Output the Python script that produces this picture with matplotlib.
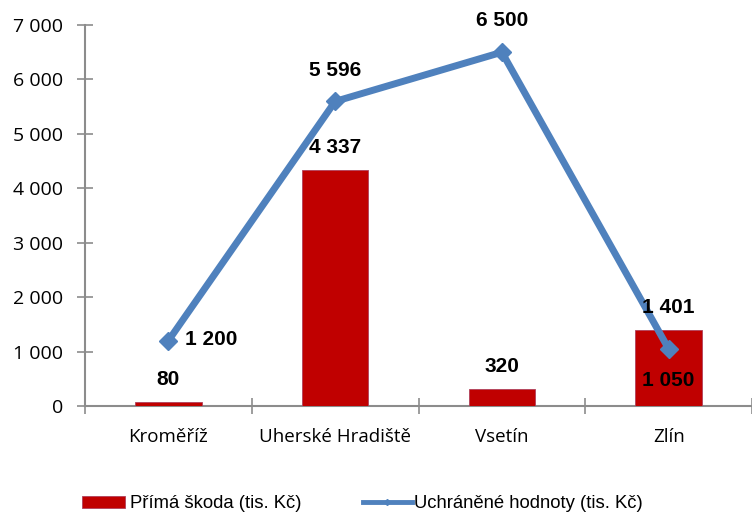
import matplotlib
matplotlib.use("Agg")
import matplotlib.pyplot as plt
from matplotlib.lines import Line2D
from matplotlib.patches import Patch

categories = ["Kroměříž", "Uherské Hradiště", "Vsetín", "Zlín"]
prima_skoda = [80, 4337, 320, 1401]
uchranene = [1200, 5596, 6500, 1050]
yticks = [0, 1000, 2000, 3000, 4000, 5000, 6000, 7000]

def fmt(v):
    return f"{v:,}".replace(",", " ")

bar_color = "#C00000"
line_color = "#4F81BD"

fig = plt.figure(figsize=(7.52, 5.16), dpi=100)
ax = fig.add_axes([85/752, 1-406/516, 1-85/752, (406-25)/516])

x = list(range(len(categories)))
ax.bar(x, prima_skoda, width=0.4, color=bar_color, edgecolor="#B0405A", linewidth=0.6, zorder=2)
ax.plot(x, uchranene, color=line_color, linewidth=5, marker="D", markersize=9,
        zorder=3, solid_capstyle="butt")

ax.set_xlim(-0.5, 3.5)
ax.set_ylim(0, 7000)
ax.set_yticks(yticks)
ax.set_yticklabels([fmt(v) for v in yticks], fontfamily="Open Sans", fontsize=14)
ax.set_xticks([-0.5, 0.5, 1.5, 2.5, 3.5])
ax.set_xticklabels([])
ax.set_xticks(x, minor=True)
ax.set_xticklabels(categories, minor=True, fontfamily="Open Sans", fontsize=13.5)
ax.tick_params(axis="x", which="minor", length=0, pad=16)
ax.tick_params(axis="both", which="major", direction="inout", length=12, width=1.2, color="#8C8C8C")
ax.tick_params(axis="y", pad=9.5)
for s in ["top", "right"]:
    ax.spines[s].set_visible(False)
for s in ["left", "bottom"]:
    ax.spines[s].set_color("#8C8C8C")
    ax.spines[s].set_linewidth(1.5)
ax.spines["bottom"].set_zorder(1)

lab = dict(fontfamily="Liberation Sans", fontweight="bold", fontsize=15, color="black", zorder=5)
# bar labels
for xi, v in zip(x, prima_skoda):
    ax.annotate(fmt(v), (xi, v), xytext=(0, 16), textcoords="offset points", ha="center", va="center", **lab)
# line labels
offs = [((12, 1), "left"), ((0, 22), "center"), ((0, 23), "center"), ((0, -23), "center")]
for xi, v, (o, ha) in zip(x, uchranene, offs):
    ax.annotate(fmt(v), (xi, v), xytext=o, textcoords="offset points", ha=ha, va="center", **lab)

leg_prop = {"family": "Liberation Sans", "size": 13.3}
leg1 = fig.legend([Patch(facecolor=bar_color, edgecolor="#B0405A", linewidth=0.6)],
                  ["Přímá škoda (tis. Kč)"], loc="center left",
                  bbox_to_anchor=(82/752, 1-504/516), frameon=False, prop=leg_prop,
                  handlelength=2.33, handleheight=0.6, handletextpad=0.27, borderpad=0, borderaxespad=0)
leg2 = fig.legend([Line2D([0], [0], color=line_color, linewidth=3.5, marker="D", markersize=3)],
                  ["Uchráněné hodnoty (tis. Kč)"], loc="center left",
                  bbox_to_anchor=(363/752, 1-504/516), frameon=False, prop=leg_prop,
                  handlelength=2.65, handletextpad=0.1, borderpad=0, borderaxespad=0)

fig.savefig("out.png", dpi=100)
